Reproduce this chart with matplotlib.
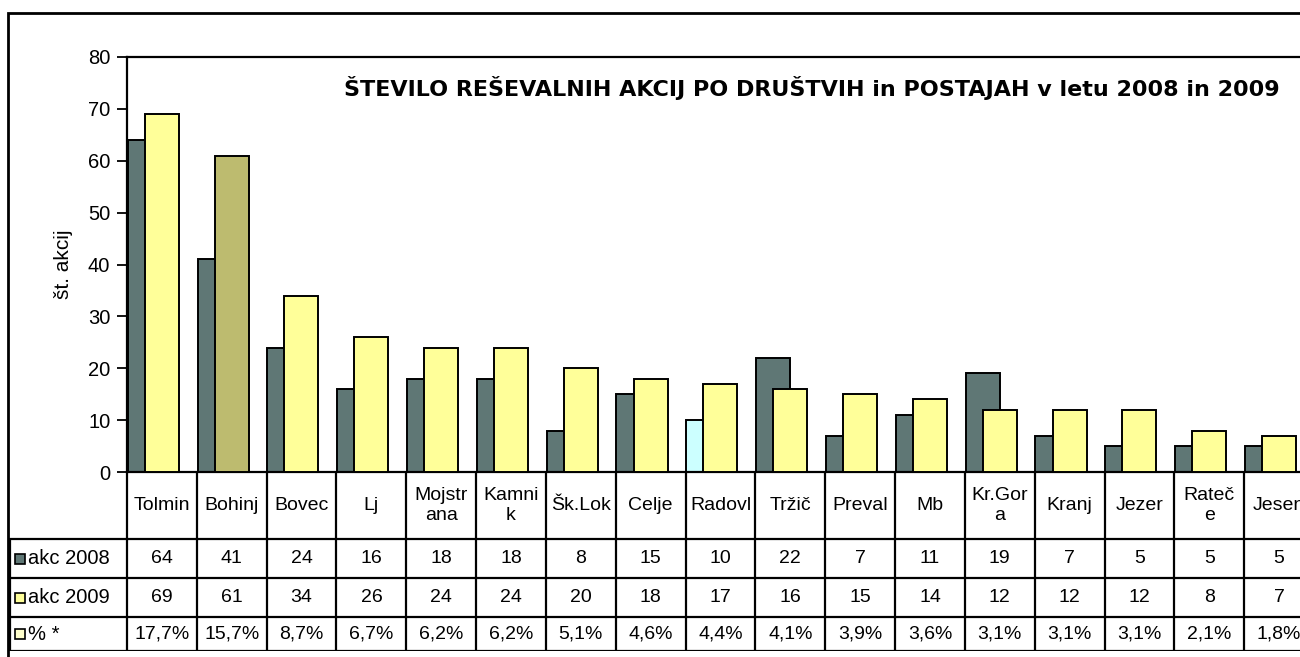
import numpy as np
import matplotlib.pyplot as plt
from matplotlib.patches import Rectangle

plt.rcParams['font.family'] = ['Liberation Sans', 'DejaVu Sans']

# data
postaje = ['Tolmin', 'Bohinj', 'Bovec', 'Lj', 'Mojstr\nana', 'Kamni\nk', 'Šk.Lok',
           'Celje', 'Radovl', 'Tržič', 'Preval', 'Mb', 'Kr.Gor\na', 'Kranj',
           'Jezer', 'Rateč\ne', 'Jesen']
akc2008 = [64, 41, 24, 16, 18, 18, 8, 15, 10, 22, 7, 11, 19, 7, 5, 5, 5]
akc2009 = [69, 61, 34, 26, 24, 24, 20, 18, 17, 16, 15, 14, 12, 12, 12, 8, 7]
odstotek = ['17,7%', '15,7%', '8,7%', '6,7%', '6,2%', '6,2%', '5,1%', '4,6%', '4,4%',
            '4,1%', '3,9%', '3,6%', '3,1%', '3,1%', '3,1%', '2,1%', '1,8%']
vrstice = ['akc 2008', 'akc 2009', '% *']
naslov = 'ŠTEVILO REŠEVALNIH AKCIJ PO DRUŠTVIH in POSTAJAH v letu 2008 in 2009'

c08 = '#5f7775'
c09 = '#ffff99'
cpct = '#ffffcc'

W, H = 1300, 657
def box(l, t, r, b):
    return [l / W, 1 - b / H, (r - l) / W, (b - t) / H]

fig = plt.figure(figsize=(13, 6.57), dpi=100)

# outer chart frame (right/bottom fall outside the picture)
fig.add_artist(Rectangle((8 / W, -0.2), 1.3, 1 - 13 / H + 0.2, transform=fig.transFigure,
                         fill=False, lw=2, ec='black'))

n = len(postaje)
left_px, right_px = 127, 1314
w = (right_px - left_px) / n

ax = fig.add_axes(box(left_px, 57, right_px, 472))
x = np.arange(n)
barve08 = [c08] * n
barve08[postaje.index('Radovl')] = '#ccffff'
barve09 = [c09] * n
barve09[postaje.index('Bohinj')] = '#bdbb6f'
ax.bar(x + 0.01, akc2008, width=0.487, align='edge', color=barve08, edgecolor='black', lw=1.4, zorder=2)
ax.bar(x + 0.255, akc2009, width=0.487, align='edge', color=barve09, edgecolor='black', lw=1.4, zorder=3)
ax.set_xlim(0, n)
ax.set_ylim(0, 80)
ax.set_yticks(range(0, 81, 10))
ax.set_xticks(np.arange(n + 1))
ax.set_xticklabels([])
ax.tick_params(axis='y', labelsize=14.5, length=7, width=1.3, pad=5)
ax.tick_params(axis='x', length=4, width=1.3)
for s in ax.spines.values():
    s.set_linewidth(1.6)
ax.set_ylabel('št. akcij', fontsize=15, labelpad=11)
ax.text((812 - left_px) / (right_px - left_px), 0.925, naslov, transform=ax.transAxes,
        ha='center', va='center', fontsize=16, fontweight='bold', family='DejaVu Sans')

# data table under the chart
tab = fig.add_axes(box(9, 472, right_px, 651))
lx = -(left_px - 9) / w
tab.set_xlim(lx, n)
meje = [0, 67, 106, 145, 179]
tab.set_ylim(meje[-1], meje[0])
tab.axis('off')
lw = 1.6
tab.vlines(np.arange(n + 1), 0, meje[-1], color='black', lw=lw)
tab.vlines(lx + 0.01, meje[1], meje[-1], color='black', lw=lw)
tab.hlines(meje[1:], lx, n, color='black', lw=lw)
sred = [(meje[k] + meje[k + 1]) / 2 for k in range(4)]
for i in range(n):
    tab.text(i + 0.5, sred[0], postaje[i], ha='center', va='center', fontsize=14,
             linespacing=1.3, multialignment='center')
    tab.text(i + 0.5, sred[1], str(akc2008[i]), ha='center', va='center', fontsize=14)
    tab.text(i + 0.5, sred[2], str(akc2009[i]), ha='center', va='center', fontsize=14)
    tab.text(i + 0.5, sred[3], odstotek[i], ha='center', va='center', fontsize=14)
for k, (lab, c) in enumerate(zip(vrstice, [c08, c09, cpct])):
    tab.plot(lx + 11 / w, sred[k + 1], marker='s', ms=7.5, mfc=c, mec='black', mew=1.2)
    tab.text(lx + 19 / w, sred[k + 1], lab, ha='left', va='center', fontsize=14.5)

fig.savefig('out.png', dpi=100)
